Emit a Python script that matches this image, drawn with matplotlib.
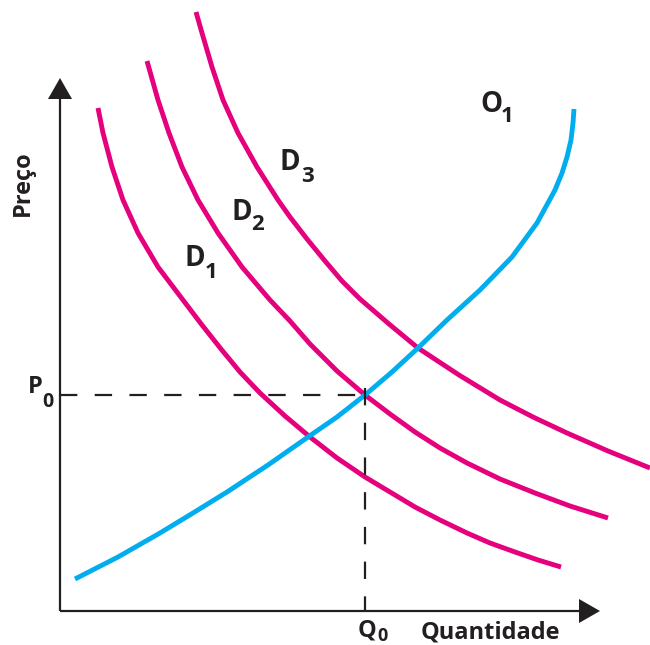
import matplotlib
matplotlib.use("Agg")
import matplotlib.pyplot as plt

plt.rcParams['font.family'] = ['Open Sans', 'DejaVu Sans']
plt.rcParams['lines.scale_dashes'] = False

# curves (quantity, price), origin at the axes corner
d1_q = [38, 43, 52, 63, 78, 98, 123, 142, 161, 180, 200, 225, 250, 277, 305,
        330, 355, 380, 407, 430, 455, 478, 501]
d1_p = [503, 478, 444, 411, 378, 344, 311, 286, 262, 239, 218, 195, 174, 153, 134,
        119, 104, 91, 78, 68, 59, 51, 44]
d2_q = [87, 98, 109, 122, 138, 158, 182, 210, 230, 250, 277, 305, 330, 355, 380,
        407, 440, 475, 510, 548]
d2_p = [550, 511, 478, 444, 411, 378, 344, 311, 290, 267, 240, 216, 197, 179, 163,
        148, 132, 118, 105, 93]
d3_q = [136, 142, 152, 163, 178, 197, 218, 230, 247, 265, 282, 300, 329, 358, 399,
        440, 473, 507, 548, 590]
d3_p = [599, 578, 544, 511, 478, 444, 411, 394, 372, 350, 330, 312, 287, 263, 236,
        211, 194, 178, 160, 143]
o1_q = [15, 58, 100, 133, 167, 208, 248, 277, 305, 332, 358, 387, 420, 452, 477,
        495, 502, 507, 511, 513, 514]
o1_p = [32, 54, 78, 98, 119, 146, 174, 194, 216, 239, 263, 291, 321, 354, 388,
        421, 438, 454, 471, 488, 502]
q0 = 305
p0 = 216

pink = "#e5007d"
blue = "#00aeef"
ink = "#231f20"

fig = plt.figure(figsize=(6.5, 6.45), dpi=100)
ax = fig.add_axes([0, 0, 1, 1])
ax.set_xlim(-60, 590)
ax.set_ylim(-34, 611)
ax.axis("off")

for q, p in [(d1_q, d1_p), (d2_q, d2_p), (d3_q, d3_p)]:
    ax.plot(q, p, color=pink, lw=3.5, solid_joinstyle="round", solid_capstyle="butt")
ax.plot(o1_q, o1_p, color=blue, lw=3.5, solid_joinstyle="round", solid_capstyle="butt")

# axes with arrow heads
ax.plot([0, 0], [0, 515], color=ink, lw=1.6, solid_capstyle="butt")
ax.plot([0, 522], [0, 0], color=ink, lw=1.6, solid_capstyle="butt")
ax.fill([-12, 12, 0], [512, 512, 533], color=ink, lw=0)
ax.fill([519, 519, 540], [12, -12, 0], color=ink, lw=0)

# equilibrium guides
ax.plot([0, q0], [p0, p0], color=ink, lw=1.6, dashes=(12.5, 12.5), dash_capstyle="butt")
ax.plot([q0, q0], [p0 + 7, -1], color=ink, lw=1.6, dashes=(12.5, 12.5), dash_capstyle="butt")

kw = dict(color=ink, fontweight="bold", ha="center", va="center")
ax.text(-37, 428, "Preço", fontsize=17, rotation=90, **kw)
ax.text(430, -21, "Quantidade", fontsize=17, **kw)
ax.text(-25, 224, "P", fontsize=17, **kw)
ax.text(-12, 209, "0", fontsize=14, **kw)
ax.text(307, -20, "Q", fontsize=17, **kw)
ax.text(322, -25, "0", fontsize=13, **kw)

ax.text(135, 352, "D", fontsize=20, **kw)
ax.text(151, 338, "1", fontsize=16, **kw)
ax.text(182, 399, "D", fontsize=20, **kw)
ax.text(198, 387, "2", fontsize=16, **kw)
ax.text(230, 448, "D", fontsize=20, **kw)
ax.text(247, 435, "3", fontsize=16, **kw)
ax.text(431, 507, "O", fontsize=20, **kw)
ax.text(447, 495, "1", fontsize=16, **kw)

fig.savefig("out.png", dpi=100)
